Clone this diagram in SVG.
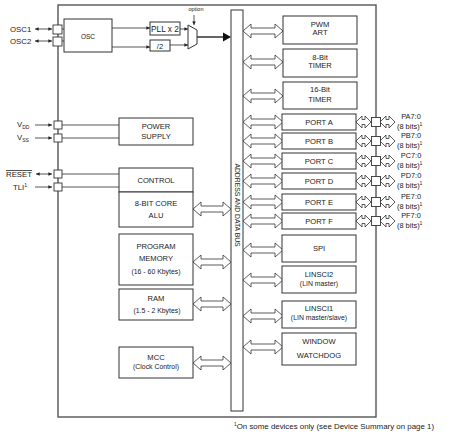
<svg xmlns="http://www.w3.org/2000/svg" xmlns:xlink="http://www.w3.org/1999/xlink" width="450" height="442" viewBox="0 0 450 442">
<style>
text{font-family:"Liberation Sans",Arial,sans-serif;fill:#222;}
.b{fill:#fff;stroke:#333;stroke-width:1;}
.t{font-size:7.6px;text-anchor:middle;}
.l{font-size:7.8px;}
.pin{fill:#fff;stroke:#333;stroke-width:0.9;}
.w{stroke:#444;stroke-width:0.9;fill:none;}
.da{fill:#fff;stroke:#333;stroke-width:0.8;stroke-linejoin:miter;}
</style>
<defs>
<marker id="ah" viewBox="0 0 6 6" refX="6" refY="3" markerWidth="4" markerHeight="4" orient="auto-start-reverse"><path d="M0,0L6,3L0,6z" fill="#222"/></marker>
<path id="a40" d="M0,0 l8,-7 v4 h24 v-4 l8,7 l-8,7 v-4 h-24 v4 z"/>
<path id="a38" d="M0,0 l8,-7 v4 h22 v-4 l8,7 l-8,7 v-4 h-22 v4 z"/>
<path id="a15" d="M0,0 l6,-6 v3.5 h3 v-3.5 l6,6 l-6,6 v-3.5 h-3 v3.5 z"/>
</defs>
<rect width="450" height="442" fill="#fff"/>

<g id="outer"><rect x="58" y="5" width="318" height="412" fill="none" stroke="#555" stroke-width="1.4"/></g>

<g id="bus"><rect x="231" y="10" width="12" height="401" class="b"/>
<text transform="translate(235.3,205) rotate(90)" style="font-size:6.8px;text-anchor:middle">ADDRESS AND DATA BUS</text></g>

<g id="connectors">
<line x1="35" y1="29" x2="52" y2="29" class="w" marker-start="url(#ah)" marker-end="url(#ah)"/>
<line x1="35" y1="41" x2="52" y2="41" class="w" marker-start="url(#ah)" marker-end="url(#ah)"/>
<line x1="62" y1="29" x2="64" y2="29" class="w"/>
<line x1="62" y1="41" x2="64" y2="41" class="w"/>
<line x1="112" y1="28" x2="150" y2="28" class="w" marker-end="url(#ah)"/>
<line x1="112" y1="47" x2="150" y2="47" class="w" marker-end="url(#ah)"/>
<line x1="180" y1="29" x2="188" y2="29" class="w" marker-end="url(#ah)"/>
<line x1="170" y1="45" x2="188" y2="45" class="w" marker-end="url(#ah)"/>
<line x1="194" y1="15" x2="194" y2="25" class="w" marker-end="url(#ah)"/>
<line x1="197" y1="37" x2="224" y2="37" stroke="#111" stroke-width="1.3"/>
<path d="M223,32.5 L231,37 L223,41.5 z" fill="#111"/>
<line x1="35" y1="125" x2="52" y2="125" class="w" marker-end="url(#ah)"/>
<line x1="35" y1="138" x2="52" y2="138" class="w" marker-end="url(#ah)"/>
<line x1="62" y1="125" x2="119" y2="125" class="w"/>
<line x1="62" y1="138" x2="119" y2="138" class="w"/>
<line x1="36" y1="174" x2="52" y2="174" class="w" marker-start="url(#ah)" marker-end="url(#ah)"/>
<line x1="35" y1="187" x2="52" y2="187" class="w" marker-end="url(#ah)"/>
<line x1="62" y1="174" x2="119" y2="174" class="w"/>
<line x1="62" y1="187" x2="119" y2="187" class="w"/>
<use xlink:href="#a38" class="da" transform="translate(193,209)"/>
<use xlink:href="#a38" class="da" transform="translate(193,262)"/>
<use xlink:href="#a38" class="da" transform="translate(193,304)"/>
<use xlink:href="#a38" class="da" transform="translate(193,363)"/>
<use xlink:href="#a40" class="da" transform="translate(243,31)"/>
<use xlink:href="#a40" class="da" transform="translate(243,62)"/>
<use xlink:href="#a40" class="da" transform="translate(243,96)"/>
<use xlink:href="#a40" class="da" transform="translate(243,122)"/>
<use xlink:href="#a40" class="da" transform="translate(243,141)"/>
<use xlink:href="#a40" class="da" transform="translate(243,161)"/>
<use xlink:href="#a40" class="da" transform="translate(243,181)"/>
<use xlink:href="#a40" class="da" transform="translate(243,202)"/>
<use xlink:href="#a40" class="da" transform="translate(243,221)"/>
<use xlink:href="#a40" class="da" transform="translate(243,250)"/>
<use xlink:href="#a40" class="da" transform="translate(243,280)"/>
<use xlink:href="#a40" class="da" transform="translate(243,316)"/>
<use xlink:href="#a40" class="da" transform="translate(243,347)"/>
<use xlink:href="#a15" class="da" transform="translate(356,122)"/>
<use xlink:href="#a15" class="da" transform="translate(380,122)"/>
<use xlink:href="#a15" class="da" transform="translate(356,141)"/>
<use xlink:href="#a15" class="da" transform="translate(380,141)"/>
<use xlink:href="#a15" class="da" transform="translate(356,161)"/>
<use xlink:href="#a15" class="da" transform="translate(380,161)"/>
<use xlink:href="#a15" class="da" transform="translate(356,181)"/>
<use xlink:href="#a15" class="da" transform="translate(380,181)"/>
<use xlink:href="#a15" class="da" transform="translate(356,202)"/>
<use xlink:href="#a15" class="da" transform="translate(380,202)"/>
<use xlink:href="#a15" class="da" transform="translate(356,221)"/>
<use xlink:href="#a15" class="da" transform="translate(380,221)"/>
</g>

<g id="pins">
<rect x="53" y="25" width="9" height="9" class="pin"/>
<rect x="53" y="37" width="9" height="9" class="pin"/>
<rect x="54" y="121" width="8" height="8" class="pin"/>
<rect x="54" y="134" width="8" height="8" class="pin"/>
<rect x="54" y="170" width="8" height="8" class="pin"/>
<rect x="54" y="183" width="8" height="8" class="pin"/>
<rect x="371.5" y="117.5" width="9" height="9" class="pin"/>
<rect x="371.5" y="136.5" width="9" height="9" class="pin"/>
<rect x="371.5" y="156.5" width="9" height="9" class="pin"/>
<rect x="371.5" y="176.5" width="9" height="9" class="pin"/>
<rect x="371.5" y="197.5" width="9" height="9" class="pin"/>
<rect x="371.5" y="216.5" width="9" height="9" class="pin"/>
</g>

<g id="labels-left">
<text class="l" x="10" y="32">OSC1</text>
<text class="l" x="10" y="44">OSC2</text>
<text class="l" x="17" y="127">V<tspan font-size="5" dy="2">DD</tspan></text>
<text class="l" x="17" y="140">V<tspan font-size="5" dy="2">SS</tspan></text>
<text class="l" x="6" y="177" text-decoration="overline">RESET</text>
<text class="l" x="13" y="190">TLI<tspan font-size="5" dy="-3">1</tspan></text>
</g>

<g id="osc"><rect x="64" y="19" width="48" height="33" class="b"/><text class="t" x="88" y="39" style="font-size:6.5px">OSC</text></g>
<g id="pll"><rect x="150" y="22" width="30" height="13" class="b"/><text class="t" x="165" y="31.8" style="font-size:8.3px">PLL x 2</text></g>
<g id="div2"><rect x="150" y="40" width="20" height="11" class="b"/><text class="t" x="160" y="48.5" style="font-size:7.5px">/2</text></g>
<g id="mux"><path d="M188,25 L197,30 L197,44 L188,49 z" class="b"/><text class="t" x="196" y="11" style="font-size:5.5px">option</text></g>

<g id="power"><rect x="119" y="118" width="74" height="27" class="b"/><text class="t" x="156" y="129">POWER</text><text class="t" x="156" y="139">SUPPLY</text></g>
<g id="control"><rect x="119" y="168" width="74" height="24" class="b"/><text class="t" x="156" y="183">CONTROL</text></g>
<g id="alu"><rect x="119" y="192" width="74" height="35" class="b"/><text class="t" x="156" y="206">8-BIT CORE</text><text class="t" x="156" y="218">ALU</text></g>
<g id="progmem"><rect x="119" y="234" width="74" height="51" class="b"/><text class="t" x="156" y="249">PROGRAM</text><text class="t" x="156" y="261">MEMORY</text><text class="t" x="156" y="274" style="font-size:6.9px">(16 - 60 Kbytes)</text></g>
<g id="ram"><rect x="119" y="289" width="74" height="31" class="b"/><text class="t" x="156" y="301">RAM</text><text class="t" x="157" y="313" style="font-size:6.9px">(1.5 - 2 Kbytes)</text></g>
<g id="mcc"><rect x="119" y="347" width="74" height="31" class="b"/><text class="t" x="156" y="360">MCC</text><text class="t" x="156" y="369" style="font-size:6.9px">(Clock Control)</text></g>

<g id="pwm"><rect x="283" y="16" width="74" height="28" class="b"/><text class="t" x="320" y="27">PWM</text><text class="t" x="320" y="35">ART</text></g>
<g id="timer8"><rect x="283" y="49" width="74" height="28" class="b"/><text class="t" x="320" y="60">8-Bit</text><text class="t" x="320" y="68">TIMER</text></g>
<g id="timer16"><rect x="283" y="82" width="74" height="27" class="b"/><text class="t" x="320" y="92">16-Bit</text><text class="t" x="320" y="102">TIMER</text></g>
<g id="porta"><rect x="282" y="114" width="74" height="16" class="b"/><text class="t" x="319" y="124.5">PORT A</text></g>
<g id="portb"><rect x="282" y="133" width="74" height="16" class="b"/><text class="t" x="319" y="143.5">PORT B</text></g>
<g id="portc"><rect x="282" y="153" width="74" height="16" class="b"/><text class="t" x="319" y="163.5">PORT C</text></g>
<g id="portd"><rect x="282" y="173" width="74" height="16" class="b"/><text class="t" x="319" y="183.5">PORT D</text></g>
<g id="porte"><rect x="282" y="194" width="74" height="16" class="b"/><text class="t" x="319" y="204.5">PORT E</text></g>
<g id="portf"><rect x="282" y="213" width="74" height="16" class="b"/><text class="t" x="319" y="223.5">PORT F</text></g>
<g id="spi"><rect x="282" y="235" width="74" height="27" class="b"/><text class="t" x="319" y="251">SPI</text></g>
<g id="linsci2"><rect x="282" y="266" width="74" height="27" class="b"/><text class="t" x="319" y="277">LINSCI2</text><text class="t" x="319" y="286" style="font-size:6.9px">(LIN master)</text></g>
<g id="linsci1"><rect x="282" y="301" width="74" height="27" class="b"/><text class="t" x="319" y="311">LINSCI1</text><text class="t" x="319" y="320" style="font-size:6.9px">(LIN master/slave)</text></g>
<g id="wdg"><rect x="282" y="333" width="74" height="32" class="b"/><text class="t" x="319" y="344">WINDOW</text><text class="t" x="319" y="358">WATCHDOG</text></g>

<g id="labels-right" style="font-size:7.4px">
<text x="411" y="119" text-anchor="middle">PA7:0</text><text x="397" y="129">(8 bits)<tspan font-size="5" dy="-3">1</tspan></text>
<text x="411" y="138" text-anchor="middle">PB7:0</text><text x="397" y="148">(8 bits)<tspan font-size="5" dy="-3">1</tspan></text>
<text x="411" y="158" text-anchor="middle">PC7:0</text><text x="397" y="168">(8 bits)<tspan font-size="5" dy="-3">1</tspan></text>
<text x="411" y="178" text-anchor="middle">PD7:0</text><text x="397" y="188">(8 bits)<tspan font-size="5" dy="-3">1</tspan></text>
<text x="411" y="199" text-anchor="middle">PE7:0</text><text x="397" y="209">(8 bits)<tspan font-size="5" dy="-3">1</tspan></text>
<text x="411" y="218" text-anchor="middle">PF7:0</text><text x="397" y="228">(8 bits)<tspan font-size="5" dy="-3">1</tspan></text>
</g>

<g id="footnote"><text x="234" y="429" style="font-size:7.9px"><tspan font-size="4.8" dy="-3">1</tspan><tspan dy="3">On some devices only (see Device Summary on page 1)</tspan></text></g>
</svg>
